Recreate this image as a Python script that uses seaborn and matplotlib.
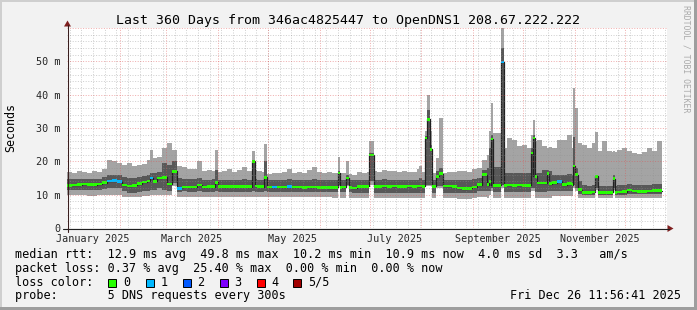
import numpy as np
import pandas as pd
import matplotlib
matplotlib.use("Agg")
import matplotlib.pyplot as plt
import seaborn as sns
from matplotlib.patches import Rectangle, Polygon
from matplotlib.lines import Line2D

# ---------------- data (milliseconds) ----------------
START = pd.Timestamp("2024-12-31 11:56:41")
SPAN_DAYS = 360
BIN_DAYS = 3

# 3-day bins: smoke max (5th ping), upper dark (4th), median, lower dark (2nd), min (1st)
smoke_max = [16.8, 16.5, 17.0, 16.8, 16.6, 17.0, 16.9, 17.6, 20.5, 20.0,
             19.5, 18.8, 19.5, 18.5, 19.0, 19.3, 20.5, 21.0, 21.2, 24.0,
             25.5, 23.4, 18.5, 18.4, 17.8, 17.6, 20.2, 17.0, 17.4, 17.0,
             16.8, 17.0, 17.8, 16.8, 17.3, 18.3, 17.2, 17.4, 17.2, 16.8,
             16.3, 16.5, 16.6, 16.8, 17.7, 16.6, 16.9, 16.4, 17.5, 18.4,
             16.8, 16.4, 16.9, 16.5, 16.6, 16.5, 16.3, 16.0, 16.8, 16.6,
             16.9, 17.2, 16.9, 17.4, 17.0, 17.1, 16.8, 17.2, 16.9, 16.7,
             17.6, 16.8, 16.8, 16.6, 16.8, 16.6, 16.9, 16.8, 17.0, 17.1,
             16.9, 17.7, 18.1, 20.5, 22.0, 28.5, 28.5, 24.0, 27.0, 26.5,
             24.5, 25.0, 24.0, 26.0, 26.5, 24.5, 24.3, 24.0, 26.4, 26.5,
             28.0, 24.0, 25.5, 24.8, 24.0, 25.5, 23.0, 26.0, 23.2, 22.8,
             23.5, 24.0, 23.0, 22.6, 22.2, 22.8, 24.0, 23.0, 26.0]
smoke_hi = [14.6, 14.6, 14.7, 14.6, 14.6, 14.7, 14.8, 15.2, 15.8, 15.9,
            15.8, 15.3, 15.0, 15.0, 15.2, 15.5, 16.0, 16.5, 16.8, 19.5,
            19.0, 20.0, 15.0, 14.8, 14.6, 14.6, 15.0, 14.5, 14.5, 14.6,
            14.5, 14.5, 14.5, 14.4, 14.5, 14.6, 14.5, 14.6, 14.5, 14.5,
            14.5, 14.5, 14.5, 14.5, 14.6, 14.5, 14.5, 14.5, 14.5, 14.6,
            14.5, 14.5, 14.5, 14.4, 14.4, 14.4, 14.4, 14.3, 14.5, 14.5,
            14.5, 14.5, 14.5, 14.6, 14.5, 14.5, 14.5, 14.5, 14.5, 14.4,
            14.5, 14.5, 14.5, 14.5, 14.5, 14.4, 14.4, 14.4, 14.5, 14.5,
            14.5, 14.7, 15.0, 17.5, 18.0, 18.4, 18.4, 16.5, 16.5, 16.6,
            16.5, 16.5, 16.4, 16.5, 16.5, 17.5, 17.0, 16.0, 16.0, 16.0,
            16.2, 16.0, 14.0, 12.8, 12.7, 12.8, 12.7, 12.6, 12.6, 12.7,
            12.8, 12.8, 13.3, 13.0, 13.0, 13.0, 13.0, 13.1, 13.1]
median = [12.8, 12.9, 13.0, 13.2, 13.1, 13.0, 13.2, 13.6, 14.1, 14.2,
          14.0, 12.9, 12.6, 12.8, 13.3, 13.8, 14.1, 14.0, 15.0, 15.2,
          13.2, 17.0, 11.9, 12.3, 12.3, 12.3, 12.9, 12.3, 12.4, 12.4,
          12.5, 12.4, 12.5, 12.4, 12.5, 12.5, 12.4, 12.6, 12.5, 12.4,
          12.3, 12.3, 12.3, 12.3, 12.4, 12.3, 12.3, 12.2, 12.3, 12.3,
          12.2, 12.2, 12.1, 12.1, 12.2, 12.3, 12.2, 12.0, 12.5, 12.5,
          12.5, 12.5, 12.5, 12.6, 12.5, 12.6, 12.5, 12.5, 12.6, 12.5,
          12.6, 12.5, 12.5, 12.5, 12.6, 12.6, 12.6, 12.4, 12.0, 11.8,
          11.9, 12.3, 13.0, 16.0, 13.0, 12.8, 12.8, 12.8, 12.9, 12.8,
          12.9, 12.8, 12.8, 15.5, 13.5, 13.5, 13.3, 13.6, 14.0, 13.0,
          13.3, 13.0, 11.5, 10.7, 10.7, 10.8, 10.6, 10.6, 10.6, 10.7,
          10.8, 10.9, 11.4, 11.1, 11.0, 11.0, 11.1, 11.2, 11.2]
smoke_lo = [11.4, 11.4, 11.5, 11.5, 11.5, 11.4, 11.5, 11.8, 12.0, 12.0,
            11.9, 11.0, 10.6, 10.6, 10.8, 11.0, 11.2, 11.5, 12.0, 11.5,
            11.2, 13.5, 10.8, 11.0, 10.9, 10.9, 11.0, 10.9, 10.9, 10.9,
            10.9, 10.9, 10.9, 10.8, 10.8, 10.9, 10.9, 10.9, 10.9, 10.9,
            10.8, 10.8, 10.8, 10.8, 10.8, 10.8, 10.8, 10.8, 10.8, 10.8,
            10.8, 10.8, 10.8, 10.7, 10.7, 10.7, 10.7, 10.6, 10.5, 10.5,
            10.5, 10.5, 10.5, 10.5, 10.5, 10.5, 10.5, 10.5, 10.5, 10.5,
            10.5, 10.5, 10.5, 10.5, 10.5, 10.5, 10.5, 10.4, 10.5, 10.4,
            10.4, 10.5, 11.0, 11.0, 11.0, 10.9, 10.9, 10.8, 10.8, 10.8,
            10.8, 10.8, 10.8, 10.8, 10.8, 10.9, 11.0, 11.0, 11.0, 11.0,
            11.0, 11.0, 10.2, 10.0, 10.0, 10.0, 9.9, 9.9, 9.9, 9.9,
            10.0, 10.0, 10.2, 10.1, 10.1, 10.1, 10.1, 10.2, 10.2]
smoke_min = [9.8, 9.8, 9.8, 9.8, 9.7, 9.7, 9.8, 9.9, 10.0, 10.0,
             10.0, 9.4, 9.3, 9.3, 9.4, 9.5, 9.6, 9.8, 10.0, 10.0,
             9.8, 12.5, 9.3, 9.3, 9.2, 9.2, 9.3, 9.2, 9.2, 9.2,
             9.2, 9.2, 9.2, 9.2, 9.2, 9.3, 9.2, 9.2, 9.2, 9.2,
             9.2, 9.2, 9.2, 9.2, 9.2, 9.2, 9.2, 9.2, 9.2, 9.2,
             9.2, 9.2, 9.2, 9.1, 9.1, 9.1, 9.1, 9.0, 9.0, 9.0,
             9.0, 9.0, 9.0, 9.0, 9.0, 9.0, 9.0, 9.0, 9.0, 9.0,
             9.0, 9.0, 9.0, 9.0, 9.0, 9.0, 9.0, 8.9, 8.8, 8.8,
             8.8, 8.9, 9.2, 9.2, 9.0, 9.0, 9.0, 9.0, 9.0, 9.0,
             9.0, 9.0, 9.0, 9.0, 9.0, 9.0, 9.0, 9.5, 9.5, 9.5,
             9.5, 9.5, 9.0, 9.0, 9.0, 9.0, 8.9, 8.9, 8.9, 8.9,
             9.0, 9.0, 9.0, 9.0, 9.0, 9.0, 9.0, 9.0, 9.0]
# lost pings per bin (0 = none); only a few bins had 1 lost ping
loss_pings = [0] * len(median)
for _i in [8, 9, 10, 22, 41, 44, 98]:
    loss_pings[_i] = 1

# short spikes (day offset from START, duration in days)
spike_day   = [49.8, 88.8, 111.0, 118.2, 162.6, 167.4, 181.2, 211.2, 214.8, 216.0,
               217.8, 221.4, 223.2, 253.2, 254.4, 260.4, 278.4, 279.6, 288.0, 303.6,
               304.8, 316.8, 327.6]
spike_width = [1.8, 1.8, 1.8, 1.8, 1.2, 1.8, 3.0, 1.8, 1.2, 1.8,
               1.2, 1.8, 2.4, 1.2, 1.2, 1.8, 1.2, 1.2, 1.2, 1.2,
               1.8, 1.8, 1.2]
spike_max   = [23.4, 23.4, 23.0, 25.2, 21.4, 20.2, 26.2, 18.5, 29.0, 40.0,
               29.0, 21.0, 33.1, 29.0, 37.4, 60.0, 28.0, 32.4, 24.0, 42.0,
               36.0, 28.9, 23.0]
spike_hi    = [16.5, 17.5, 20.4, 20.0, 17.0, 16.0, 22.4, 15.0, 27.5, 35.4,
               25.0, 17.0, 18.0, 24.0, 28.0, 54.0, 24.0, 28.0, 17.5, 27.4,
               18.0, 16.0, 16.0]
spike_med   = [15.0, 13.7, 20.0, 15.2, 16.5, 15.0, 21.9, 12.6, 27.0, 32.6,
               23.6, 15.5, 16.3, 14.0, 26.7, 49.8, 22.5, 27.0, 16.3, 18.6,
               16.0, 15.5, 14.8]
spike_lo    = [11.5, 11.0, 11.0, 11.0, 13.0, 13.0, 14.0, 10.5, 13.0, 13.0,
               13.0, 12.5, 12.5, 11.0, 12.0, 13.0, 12.0, 12.0, 11.0, 13.0,
               12.0, 12.0, 12.0]
spike_min   = [10.0, 9.3, 9.3, 9.3, 12.5, 12.5, 13.0, 9.0, 12.5, 12.5,
               12.5, 12.0, 12.0, 10.0, 11.0, 12.0, 11.0, 11.0, 9.0, 12.0,
               11.0, 11.5, 11.5]
spike_loss  = [1, 0, 0, 0, 0, 0, 0, 0, 0, 0,
               0, 0, 0, 0, 0, 1, 0, 0, 0, 0,
               0, 0, 0]

y_ticks = [0, 10, 20, 30, 40, 50]
y_tick_labels = ["0", "10 m", "20 m", "30 m", "40 m", "50 m"]
x_label_months = ["2025-01-01", "2025-03-01", "2025-05-01", "2025-07-01", "2025-09-01", "2025-11-01"]
x_label_texts = ["January 2025", "March 2025", "May 2025", "July 2025", "September 2025", "November 2025"]

title = "Last 360 Days from 346ac4825447 to OpenDNS1 208.67.222.222"
legend_lines = [
    "median rtt:  12.9 ms avg  49.8 ms max  10.2 ms min  10.9 ms now  4.0 ms sd  3.3   am/s",
    "packet loss: 0.37 % avg  25.40 % max  0.00 % min  0.00 % now",
    "loss color:",
    "probe:       5 DNS requests every 300s",
]
loss_labels = ["0", "1", "2", "3", "4", "5/5"]
loss_colors = ["#26ff00", "#00b8ff", "#0059ff", "#7e00ff", "#ff0000", "#a10000"]
stamp = "Fri Dec 26 11:56:41 2025"

# ---------------- style ----------------
sns.set_style("white")
plt.rcParams["font.family"] = ["DejaVu Sans Mono"]
plt.rcParams["text.color"] = "black"

W, H = 697, 310
fig = plt.figure(figsize=(W / 100, H / 100), dpi=100, facecolor="#F2F2F2")


def fx(px):
    return px / W


def fy(py):
    return 1 - py / H


X0, X1, YT, YB = 67, 667, 28, 228
ax = fig.add_axes([fx(X0), fy(YB), (X1 - X0) / W, (YB - YT) / H])
ax.set_facecolor("white")
for s in ax.spines.values():
    s.set_visible(False)
ax.set_xlim(0, SPAN_DAYS)
ax.set_ylim(0, 60)

# ---------------- compose bins + spikes into step segments ----------------
segs = [[i * BIN_DAYS, (i + 1) * BIN_DAYS, smoke_min[i], smoke_lo[i], median[i],
         smoke_hi[i], smoke_max[i], loss_pings[i]] for i in range(len(median))]
for k in range(len(spike_day)):
    a0, a1 = spike_day[k], spike_day[k] + spike_width[k]
    new = []
    for s in segs:
        if s[1] <= a0 or s[0] >= a1:
            new.append(s)
            continue
        if s[0] < a0:
            new.append([s[0], a0] + s[2:])
        if s[1] > a1:
            new.append([a1, s[1]] + s[2:])
    new.append([a0, a1, spike_min[k], spike_lo[k], spike_med[k], spike_hi[k],
                spike_max[k], spike_loss[k]])
    segs = sorted(new, key=lambda s: s[0])
seg = np.array(segs, dtype=float)
xs = np.append(seg[:, 0], seg[-1, 1])


def stepv(c):
    return np.append(seg[:, c], seg[-1, c])


ax.fill_between(xs, stepv(2), stepv(6), step="post", color="#a4a4a4", lw=0, zorder=1)
ax.fill_between(xs, stepv(3), stepv(5), step="post", color="#585858", lw=0, zorder=2)
sns.lineplot(x=xs, y=stepv(4), drawstyle="steps-post", color="#202020", lw=0.9,
             ax=ax, zorder=3, estimator=None, sort=False)
ax.bar(seg[:, 0], 0.75, bottom=seg[:, 4] - 0.375, width=seg[:, 1] - seg[:, 0], align="edge",
       color=[loss_colors[int(l)] for l in seg[:, 7]], lw=0, zorder=4)

# ---------------- grid (drawn over the data, like rrdtool) ----------------
minor_c = (0.56, 0.56, 0.56, 0.42)
major_c = (0.87, 0.31, 0.31, 0.45)
dots = (0, (1, 1.6))
for v in range(2, 60, 2):
    if v % 10:
        ax.axhline(v, color=minor_c, lw=0.72, ls=dots, zorder=5)
for v in range(10, 61, 10):
    ax.axhline(v, color=major_c, lw=0.72, ls=dots, zorder=6)
end = START + pd.Timedelta(days=SPAN_DAYS)
weeks = pd.date_range(START.normalize(), end, freq="W-THU")
for t in weeks:
    d = (t - START) / pd.Timedelta(days=1)
    if 0 < d < SPAN_DAYS:
        ax.axvline(d, color=minor_c, lw=0.72, ls=dots, zorder=5)
months = pd.date_range("2025-01-01", "2025-12-01", freq="MS")
for t in months:
    d = (t - START) / pd.Timedelta(days=1)
    ax.axvline(d, color=major_c, lw=0.72, ls=dots, zorder=6)

# ---------------- ticks ----------------
ax.set_yticks(y_ticks)
ax.set_yticklabels(y_tick_labels)
lab_pos = [((pd.Timestamp(m) - START) / pd.Timedelta(days=1)) + 15 for m in x_label_months]
ax.set_xticks(lab_pos)
ax.set_xticklabels(x_label_texts)
ax.tick_params(axis="y", length=2.2, width=0.8, color="#1F1F1F", pad=2.5, labelsize=7.3)
ax.tick_params(axis="x", length=0, pad=4.2, labelsize=7.3)
ax.set_xlabel("")
ax.set_ylabel("")

# ---------------- axes lines & arrows ----------------
fig.add_artist(Line2D([fx(63), fx(669)], [fy(228.5), fy(228.5)], color="#1F1F1F", lw=0.8))
fig.add_artist(Line2D([fx(67.5), fx(67.5)], [fy(232), fy(25)], color="#3a1f1f", lw=0.8))
fig.add_artist(Polygon([(fx(64), fy(26.5)), (fx(71), fy(26.5)), (fx(67.5), fy(20.5))],
                       closed=True, color="#801F1F", lw=0))
fig.add_artist(Polygon([(fx(667.5), fy(225)), (fx(667.5), fy(232)), (fx(673.5), fy(228.5))],
                       closed=True, color="#801F1F", lw=0))

# ---------------- frame shading ----------------
fig.add_artist(Rectangle((0, fy(2)), 1, 2 / H, color="#CFCFCF", lw=0))
fig.add_artist(Rectangle((0, 0), 2 / W, 1, color="#CFCFCF", lw=0))
fig.add_artist(Rectangle((fx(694), 0), 3 / W, 1, color="#9E9E9E", lw=0))
fig.add_artist(Rectangle((0, 0), 1, 3 / H, color="#9E9E9E", lw=0))

# ---------------- texts ----------------
fig.text(fx(348.5), fy(24), title, ha="center", va="baseline", fontsize=9.5)
fig.text(fx(11), fy(128), "Seconds", rotation=90, ha="center", va="center", fontsize=8.4)
fig.text(fx(686), fy(59), "RRDTOOL / TOBI OETIKER", rotation=270, ha="center", va="center",
         fontsize=5.9, color="#aaaaaa")

baselines = [258, 271.8, 285.6, 299.4]
for txt, b in zip(legend_lines, baselines):
    fig.text(fx(15), fy(b), txt, ha="left", va="baseline", fontsize=8.5)
fig.text(fx(681), fy(299.4), stamp, ha="right", va="baseline", fontsize=8.5)

sq_x = [108, 145.5, 182.5, 219.5, 256.5, 293]
for x, lab, col in zip(sq_x, loss_labels, loss_colors):
    fig.add_artist(Rectangle((fx(x), fy(287)), 8 / W, 8 / H, facecolor=col,
                             edgecolor="black", lw=0.7))
    fig.text(fx(x + 15), fy(285.6), lab, ha="left", va="baseline", fontsize=8.5)

fig.savefig("out.png", dpi=100, facecolor=fig.get_facecolor())
